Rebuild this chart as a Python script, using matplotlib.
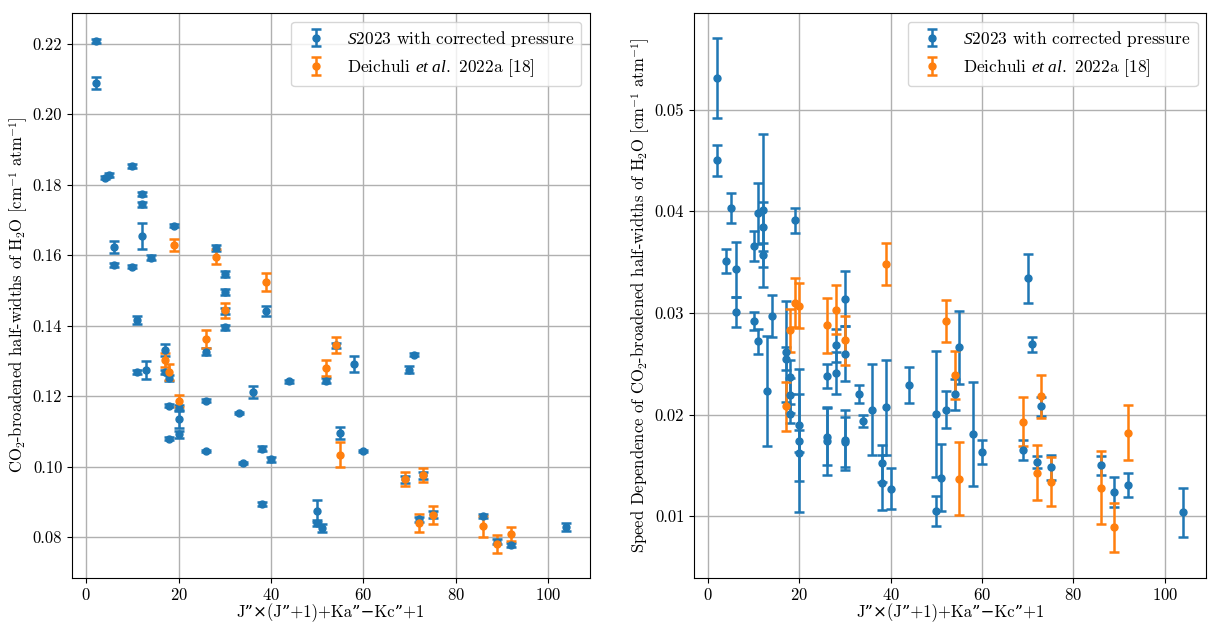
import matplotlib
matplotlib.use("Agg")
import matplotlib.pyplot as plt

plt.rcParams.update({
    "font.family": ["cmr10", "DejaVu Serif"],
    "mathtext.fontset": "custom",
    "mathtext.rm": "cmr10",
    "mathtext.it": "Liberation Serif:italic",
    "mathtext.bf": "cmb10",
    "mathtext.fallback": "cm",
    "axes.formatter.use_mathtext": True,
    "font.size": 12,
    "axes.unicode_minus": True,
})

# ---------------- Left panel: half-widths ----------------
left_blue_x = [2, 2, 4, 5, 6, 6, 10, 10, 11, 11, 12, 12, 12, 13, 14, 17, 17, 18, 18, 18,
               19, 20, 20, 20, 26, 26, 26, 28, 30, 30, 30, 30, 33, 34, 36, 38, 38, 39, 40, 44,
               50, 50, 51, 52, 54, 55, 58, 60, 69, 70, 71, 72, 73, 75, 86, 89, 92, 104]
left_blue_y = [0.2207, 0.2089, 0.1820, 0.1827, 0.1623, 0.1572, 0.1854, 0.1567, 0.1416, 0.1268,
               0.1774, 0.1744, 0.1654, 0.1274, 0.1593, 0.1331, 0.1268, 0.1252, 0.1173, 0.1079,
               0.1684, 0.1166, 0.1135, 0.1091, 0.1326, 0.1187, 0.1044, 0.1621, 0.1546, 0.1496,
               0.1442, 0.1395, 0.1152, 0.1011, 0.1212, 0.1051, 0.0893, 0.1442, 0.1020, 0.1242,
               0.0874, 0.0840, 0.0825, 0.1244, 0.1344, 0.1095, 0.1292, 0.1045, 0.0964, 0.1275,
               0.1317, 0.0850, 0.0975, 0.0865, 0.0859, 0.0787, 0.0777, 0.0829]
left_blue_err = [0.0006, 0.0018, 0.0005, 0.0005, 0.0018, 0.0005, 0.0006, 0.0004, 0.0012, 0.0005,
                 0.0006, 0.0006, 0.0037, 0.0025, 0.0008, 0.0018, 0.0006, 0.0008, 0.0005, 0.0004,
                 0.0005, 0.0008, 0.0025, 0.0010, 0.0010, 0.0005, 0.0004, 0.0008, 0.0008, 0.0008,
                 0.0008, 0.0008, 0.0004, 0.0003, 0.0017, 0.0006, 0.0005, 0.0015, 0.0007, 0.0005,
                 0.0030, 0.0008, 0.0012, 0.0008, 0.0008, 0.0018, 0.0023, 0.0003, 0.0010, 0.0010,
                 0.0004, 0.0008, 0.0010, 0.0010, 0.0005, 0.0008, 0.0005, 0.0012]

left_orange_x = [17, 18, 19, 20, 26, 28, 30, 39, 52, 54, 55, 69, 72, 73, 75, 86, 89, 92]
left_orange_y = [0.1302, 0.1269, 0.1630, 0.1186, 0.1362, 0.1596, 0.1443, 0.1523, 0.1279,
                 0.1344, 0.1034, 0.0964, 0.0840, 0.0975, 0.0862, 0.0830, 0.0780, 0.0808]
left_orange_err = [0.0020, 0.0022, 0.0017, 0.0016, 0.0025, 0.0022, 0.0022, 0.0025, 0.0022,
                   0.0023, 0.0036, 0.0020, 0.0025, 0.0020, 0.0025, 0.0030, 0.0025, 0.0019]

# ---------------- Right panel: speed dependence ----------------
right_blue_x = [2, 2, 4, 5, 6, 6, 10, 10, 11, 11, 12, 12, 12, 13, 14, 17, 17, 18, 18, 18,
                19, 20, 20, 20, 26, 26, 26, 28, 28, 30, 30, 30, 30, 33, 34, 36, 38, 38, 39, 40,
                44, 50, 50, 51, 52, 54, 55, 58, 60, 69, 70, 71, 72, 73, 75, 86, 89, 92, 104]
right_blue_y = [0.0531, 0.0450, 0.0351, 0.0403, 0.0343, 0.0301, 0.0366, 0.0292, 0.0398, 0.0272,
                0.0401, 0.0385, 0.0357, 0.0223, 0.0297, 0.0262, 0.0255, 0.0237, 0.0219, 0.0201,
                0.0391, 0.0190, 0.0174, 0.0162, 0.0238, 0.0178, 0.0174, 0.0268, 0.0241, 0.0314,
                0.0260, 0.0175, 0.0173, 0.0220, 0.0194, 0.0205, 0.0152, 0.0133, 0.0207, 0.0127,
                0.0229, 0.0201, 0.0105, 0.0138, 0.0205, 0.0220, 0.0266, 0.0181, 0.0163, 0.0165,
                0.0334, 0.0269, 0.0153, 0.0208, 0.0148, 0.0150, 0.0124, 0.0131, 0.0104]
right_blue_err = [0.0039, 0.0015, 0.0012, 0.0015, 0.0027, 0.0015, 0.0015, 0.0009, 0.0030, 0.0012,
                  0.0075, 0.0024, 0.0012, 0.0054, 0.0021, 0.0050, 0.0011, 0.0017, 0.0017, 0.0009,
                  0.0012, 0.0055, 0.0011, 0.0058, 0.0012, 0.0028, 0.0033, 0.0016, 0.0021, 0.0027,
                  0.0027, 0.0030, 0.0025, 0.0009, 0.0006, 0.0045, 0.0018, 0.0027, 0.0047, 0.0020,
                  0.0018, 0.0062, 0.0015, 0.0033, 0.0018, 0.0015, 0.0036, 0.0051, 0.0012, 0.0010,
                  0.0024, 0.0007, 0.0006, 0.0009, 0.0012, 0.0009, 0.0015, 0.0012, 0.0024]

right_orange_x = [17, 18, 19, 20, 26, 28, 30, 39, 52, 54, 55, 69, 72, 73, 75, 86, 89, 92]
right_orange_y = [0.0208, 0.0283, 0.0310, 0.0307, 0.0288, 0.0303, 0.0273, 0.0348, 0.0292,
                  0.0239, 0.0137, 0.0193, 0.0143, 0.0218, 0.0134, 0.0128, 0.0089, 0.0182]
right_orange_err = [0.0024, 0.0021, 0.0024, 0.0022, 0.0027, 0.0024, 0.0024, 0.0021, 0.0021,
                    0.0024, 0.0036, 0.0024, 0.0027, 0.0021, 0.0024, 0.0036, 0.0024, 0.0027]

label_blue = r"$\mathit{S2023}$ with corrected pressure"
label_orange = r"Deichuli $\mathit{et\ al.}$ 2022a [18]"
xlabel = "J”×(J”+1)+Ka”−Kc”+1"
ylabel_left = r"CO$_2$-broadened half-widths of H$_2$O [cm$^{-1}$ atm$^{-1}$]"
ylabel_right = r"Speed Dependence of CO$_2$-broadened half-widths of H$_2$O [cm$^{-1}$ atm$^{-1}$]"

blue = "#1f77b4"
orange = "#ff7f0e"

fig = plt.figure(figsize=(12.08, 6.23), dpi=100)
ax1 = fig.add_axes([0.0596, 0.073, 0.4288, 0.906])
ax2 = fig.add_axes([0.5745, 0.073, 0.4240, 0.906])

eb_kw = dict(fmt="o", markersize=5, capsize=3.5, elinewidth=1.8, capthick=1.8)

for ax, bx, by, be, ox, oy, oe, yl in [
    (ax1, left_blue_x, left_blue_y, left_blue_err, left_orange_x, left_orange_y, left_orange_err, ylabel_left),
    (ax2, right_blue_x, right_blue_y, right_blue_err, right_orange_x, right_orange_y, right_orange_err, ylabel_right),
]:
    ax.errorbar(bx, by, yerr=be, color=blue, label=label_blue, **eb_kw)
    ax.errorbar(ox, oy, yerr=oe, color=orange, label=label_orange, **eb_kw)
    ax.grid(True, color="#b0b0b0", linewidth=1.0)
    ax.set_axisbelow(True)
    ax.set_xlabel(xlabel, fontsize=12, labelpad=0, family=["cmr10", "DejaVu Serif"])
    ax.set_ylabel(yl, fontsize=12, labelpad=2)
    ax.tick_params(labelsize=12)
    ax.legend(loc="upper right", fontsize=12.5)

ax1.set_yticks([0.08, 0.10, 0.12, 0.14, 0.16, 0.18, 0.20, 0.22])
ax1.set_yticklabels(["0.08", "0.10", "0.12", "0.14", "0.16", "0.18", "0.20", "0.22"])
ax2.set_yticks([0.01, 0.02, 0.03, 0.04, 0.05])
ax2.set_yticklabels(["0.01", "0.02", "0.03", "0.04", "0.05"])
ax1.set_ylim(0.0685, 0.2287)
ax2.set_ylim(0.00397, 0.0595)

fig.savefig("out.png", dpi=100)
